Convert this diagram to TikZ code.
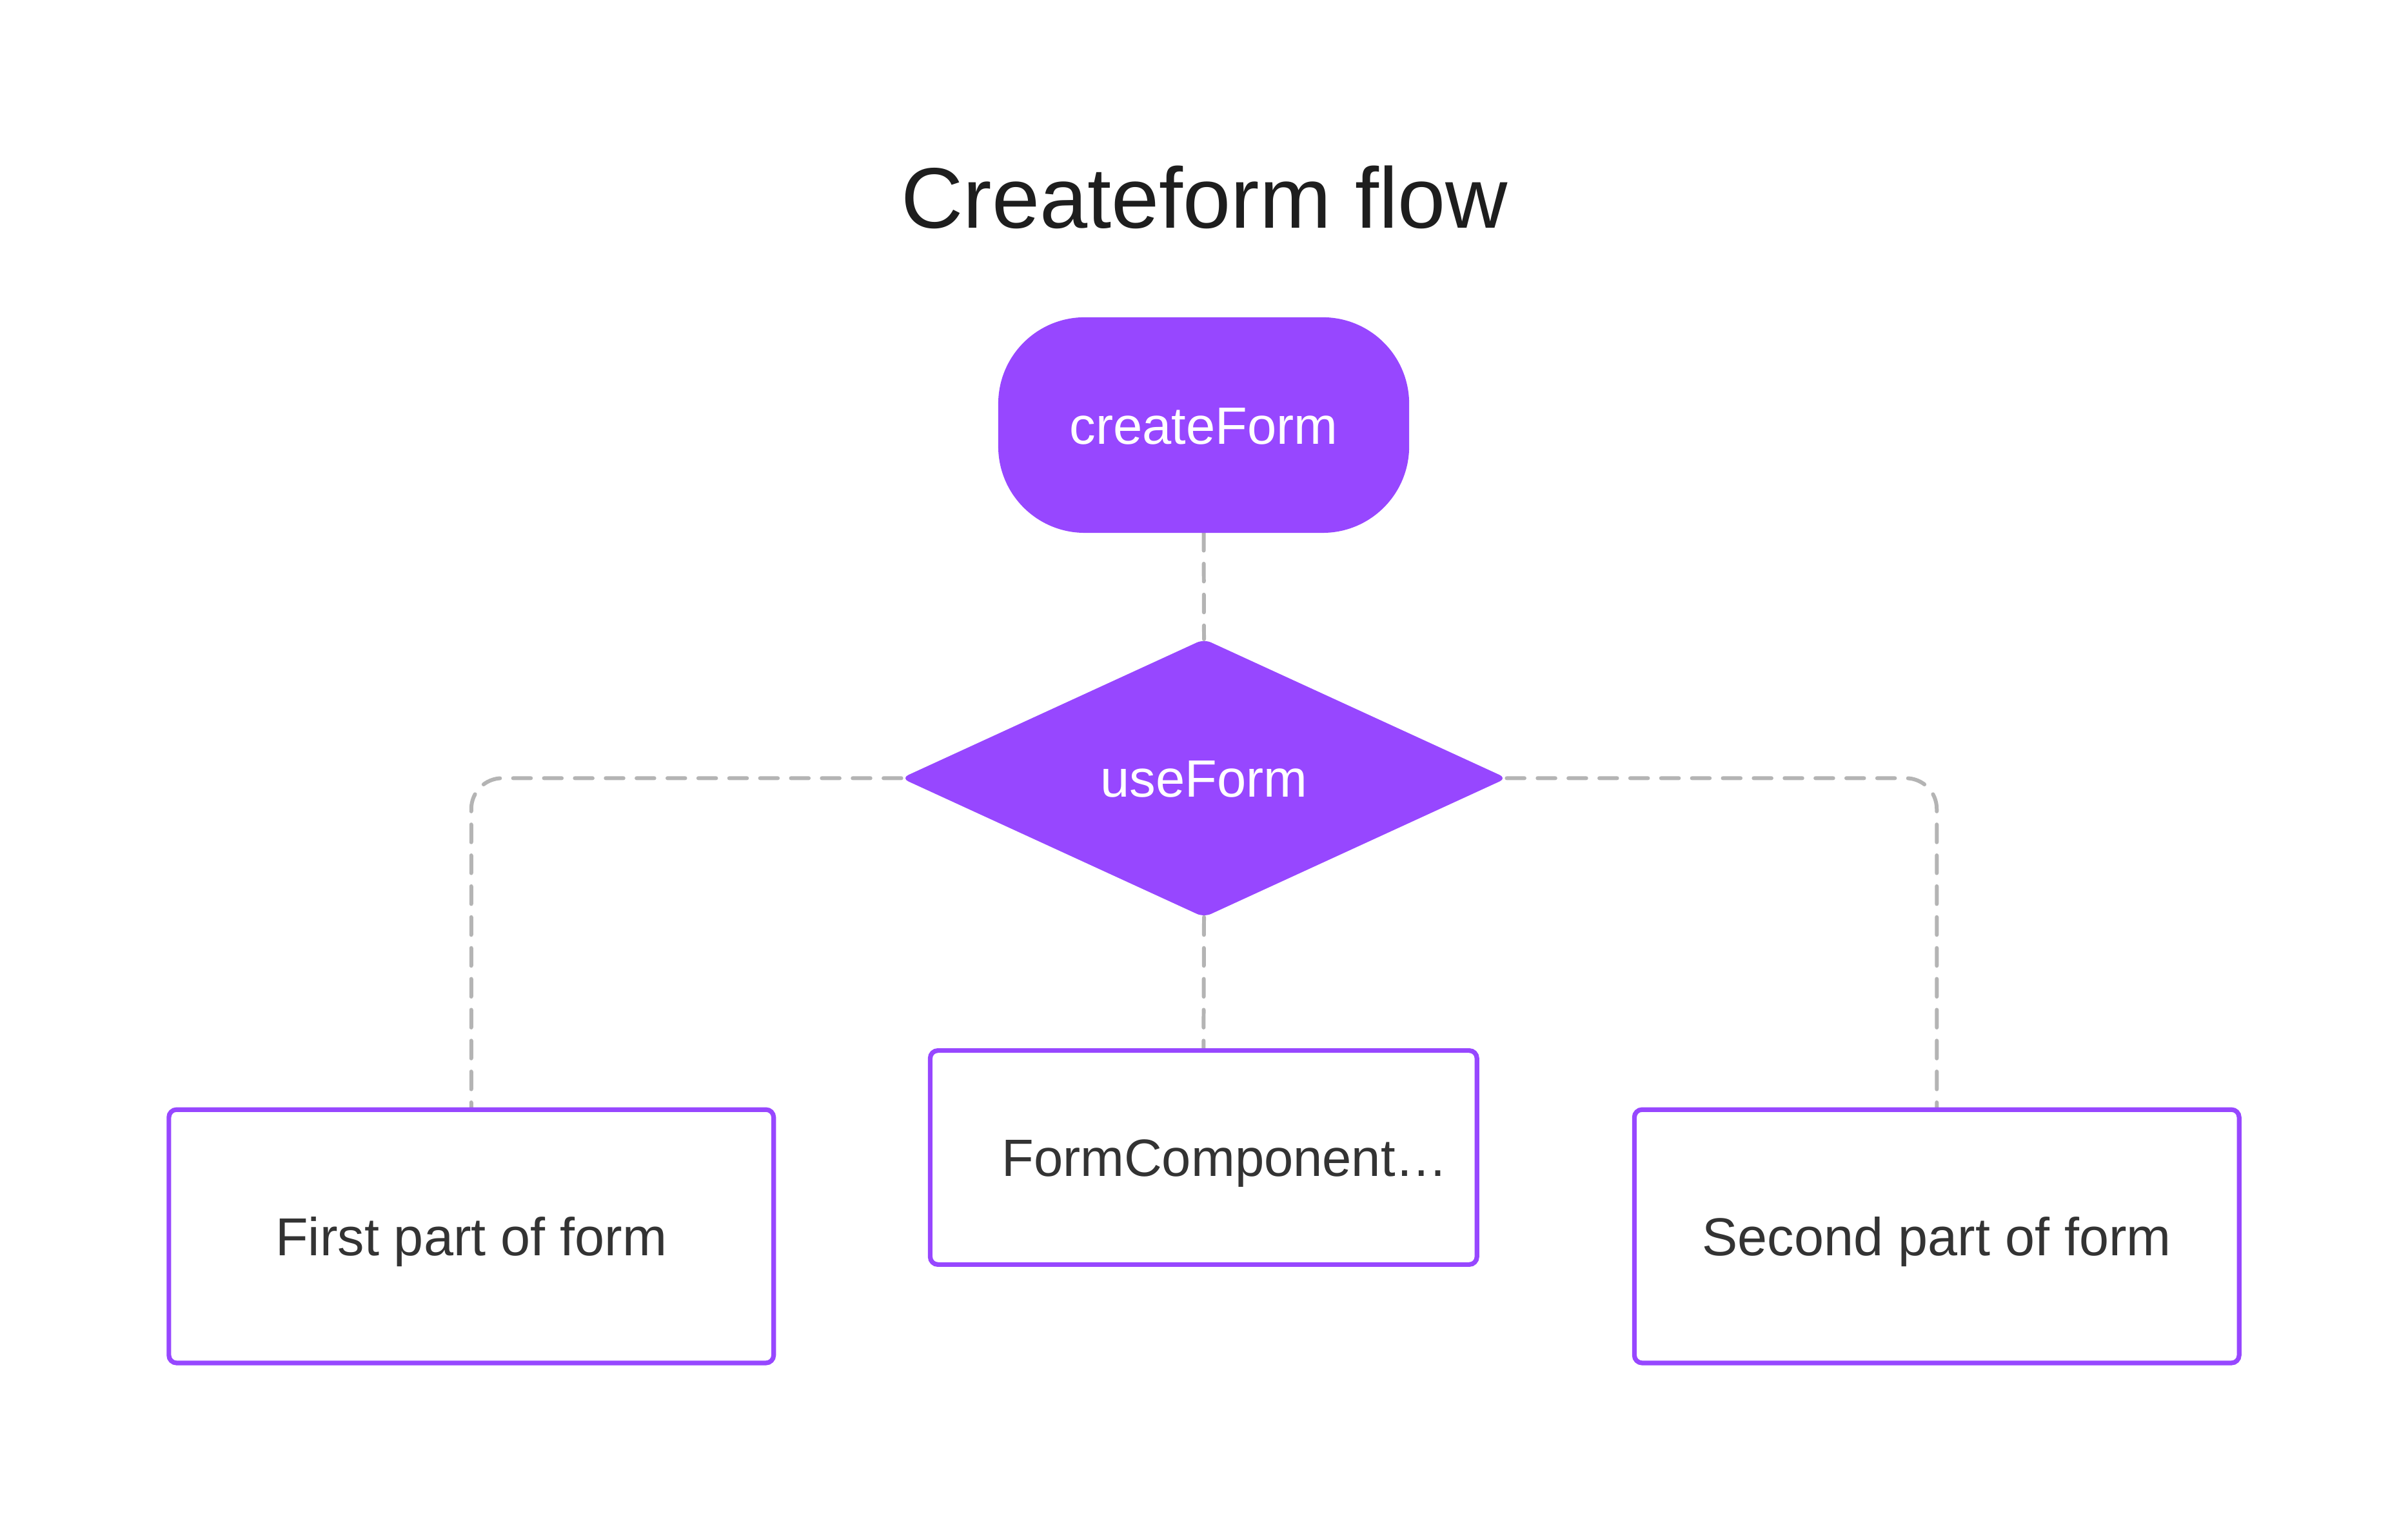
\documentclass[tikz,border=0pt]{standalone}
\usepackage{fontspec}
\setmainfont{Liberation Sans}
\usetikzlibrary{shapes.geometric,backgrounds}
\definecolor{fpurple}{HTML}{9747FF}
\definecolor{fgray}{HTML}{B4B4B4}
\definecolor{ftitle}{HTML}{1E1E1E}
\definecolor{ftext}{HTML}{333333}
\begin{document}
\begin{tikzpicture}[x=1pt,y=-1pt,
  titletext/.style={font=\fontsize{55.7}{64}\selectfont, text=ftitle, anchor=base, inner sep=0pt, outer sep=0pt},
  nodetext/.style={font=\fontsize{34}{40}\selectfont, text height=24.3pt, text depth=0pt, inner sep=0pt, outer sep=0pt},
  startnode/.style={nodetext, rectangle, rounded corners=56pt, fill=fpurple, text=white, minimum width=266.2pt, minimum height=139.6pt},
  decision/.style={nodetext, diamond, aspect=2.178, fill=fpurple, text=white, minimum width=392.2pt, minimum height=180pt, rounded corners=5pt},
  partbox/.style={nodetext, rectangle, draw=fpurple, line width=3pt, rounded corners=5pt, fill=white, text=ftext},
  widetext/.style={font=\fontsize{34.6}{40}\selectfont, text height=24.8pt},
  link/.style={draw=fgray, line width=2.5pt, line cap=round, dash pattern=on 11.5pt off 8.5pt, rounded corners=20pt}
]
\useasboundingbox (0,0) rectangle (1560,992.2);

\node[titletext] (title) at (780.4,147.5) {Createform flow};
\node[startnode] (create) at (779.8,275.3) {createForm};
\node[decision] (use) at (780,504) {useForm};
\node[partbox, widetext, minimum width=391.8pt, minimum height=164.1pt] (first) at (305.3,800.7) {First part of form};
\node[partbox, minimum width=354.2pt, minimum height=138.6pt] (comp) at (779.7,749.7) {\hspace*{27.6pt}FormComponent…};
\node[partbox, widetext, minimum width=391.8pt, minimum height=164.1pt] (second) at (1254.7,800.7) {Second part of form};

\begin{scope}[on background layer]
  \fill[white] (0,0) rectangle (1560,992.2);
  \draw[link] (create.south) -- (use.north);
  \draw[link] (use.west) -| (first.north);
  \draw[link] (use.east) -| (second.north);
  \draw[link] (use.south) -- (comp.north);
\end{scope}
\end{tikzpicture}
\end{document}
